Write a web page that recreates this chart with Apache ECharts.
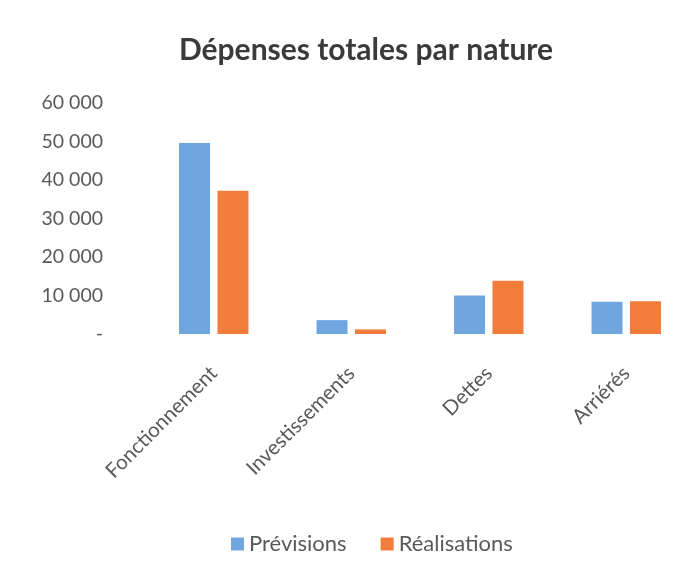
<!DOCTYPE html>
<html><head><meta charset="utf-8">
<script src="https://cdn.jsdelivr.net/npm/echarts@6/dist/echarts.min.js"></script>
<style>html,body{margin:0;padding:0;background:#fff}#c{width:697px;height:575px}</style>
</head><body><div id="c"></div>
<script>
const categories = ['Fonctionnement', 'Investissements', 'Dettes', 'Arriérés'];
const previsions = [49600, 3600, 10000, 8400];
const realisations = [37200, 1200, 13800, 8500];
const seriesNames = ['Prévisions', 'Réalisations'];
const yTicks = [0, 10000, 20000, 30000, 40000, 50000, 60000];

const font = 'Lato, "Open Sans", sans-serif';
const chart = echarts.init(document.getElementById('c'));
chart.setOption({
  animation: false,
  backgroundColor: '#fff',
  title: {
    text: 'Dépenses totales par nature',
    left: 361, top: 30, textAlign: 'center',
    textStyle: { fontFamily: font, fontSize: 30, fontWeight: 'bold', color: '#3a3a3a' }
  },
  legend: {
    data: seriesNames,
    bottom: 15, left: 226,
    itemWidth: 13, itemHeight: 13, itemGap: 34,
    icon: 'rect',
    textStyle: { fontFamily: font, fontSize: 22, color: '#595959' }
  },
  grid: { left: 145, right: 2, top: 103, bottom: 241, containLabel: false },
  xAxis: {
    type: 'category', data: categories,
    axisLine: { show: false }, axisTick: { show: false },
    axisLabel: { rotate: 45, fontFamily: font, fontSize: 20.5, color: '#595959', margin: 36, interval: 0 }
  },
  yAxis: {
    type: 'value', min: yTicks[0], max: yTicks[yTicks.length - 1], interval: 10000,
    splitLine: { show: false },
    axisLine: { show: false }, axisTick: { show: false },
    axisLabel: {
      fontFamily: font, fontSize: 19.5, color: '#595959', margin: 42,
      formatter: v => v === 0 ? '-' : String(v).replace(/\B(?=(\d{3})+(?!\d))/g, ' ')
    }
  },
  series: [
    { name: seriesNames[0], type: 'bar', data: previsions, barWidth: 31, barGap: '24%', itemStyle: { color: '#6FA6E0' } },
    { name: seriesNames[1], type: 'bar', data: realisations, barWidth: 31, itemStyle: { color: '#F27C3A' } }
  ]
});
</script></body></html>
